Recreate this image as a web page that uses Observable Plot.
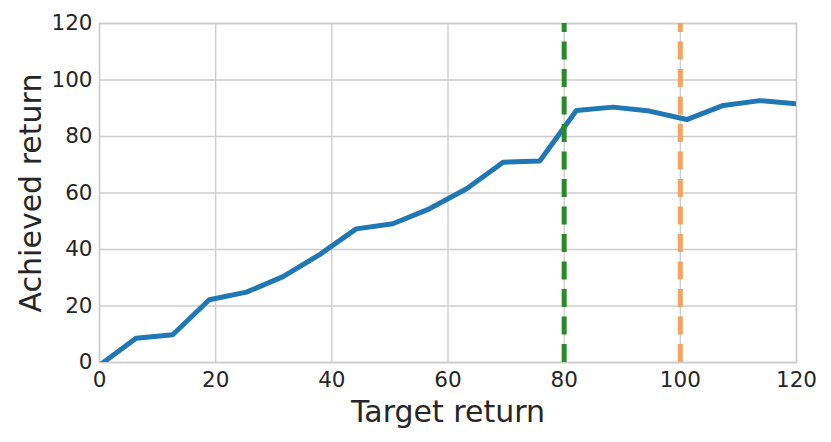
<!DOCTYPE html>
<html>
<head>
<meta charset="utf-8">
<script src="https://cdn.jsdelivr.net/npm/d3@7"></script>
<script src="https://cdn.jsdelivr.net/npm/@observablehq/plot@0.6"></script>
<style>
  html, body { margin: 0; padding: 0; background: white; }
</style>
</head>
<body>
<div id="chart"></div>
<script>
// Data
const targetReturn = [0, 6.3, 12.6, 18.9, 25.3, 31.6, 37.9, 44.2, 50.5, 56.8, 63.2, 69.5, 75.8, 82.1, 88.4, 94.7, 101.1, 107.4, 113.7, 120];
const achievedReturn = [-1, 8.6, 9.8, 22.2, 24.9, 30.4, 38.2, 47.3, 49.1, 54.4, 61.5, 70.9, 71.3, 89.2, 90.4, 89.0, 86.0, 91.0, 92.7, 91.6];
const markerLines = [80, 100];
const markerColors = ["#2a8a2a", "#f4a460"];
const xTicks = [0, 20, 40, 60, 80, 100, 120];
const yTicks = [0, 20, 40, 60, 80, 100, 120];
const xLabel = "Target return";
const yLabel = "Achieved return";

const data = targetReturn.map((x, i) => ({x, y: achievedReturn[i]}));
const rules = markerLines.map((x, i) => ({x, color: markerColors[i]}));

const chart = Plot.plot({
  width: 831,
  height: 442,
  marginLeft: 99,
  marginRight: 35,
  marginTop: 23,
  marginBottom: 80,
  style: {fontFamily: "DejaVu Sans", fontSize: "21.5px", color: "#262626", background: "white"},
  x: {domain: [0, 120]},
  y: {domain: [0, 120]},
  marks: [
    Plot.gridX(xTicks, {stroke: "#cccccc", strokeOpacity: 1, strokeWidth: 1.3}),
    Plot.gridY(yTicks, {stroke: "#cccccc", strokeOpacity: 1, strokeWidth: 1.3}),
    Plot.frame({stroke: "#cccccc", strokeWidth: 1.5}),
    Plot.axisX({ticks: xTicks, tickSize: 0, tickPadding: 9, label: null, fill: "#262626"}),
    Plot.axisY({ticks: yTicks, tickSize: 0, tickPadding: 7, label: null, fill: "#262626"}),
    Plot.line(data, {x: "x", y: "y", stroke: "#1f77b4", strokeWidth: 5, clip: true, strokeLinejoin: "round"}),
    Plot.ruleX(rules, {x: "x", y1: 0, y2: 120, stroke: "color", strokeWidth: 5, strokeDasharray: "18,9.5"}),
    Plot.text([xLabel], {text: d => d, frameAnchor: "bottom", dy: 50, fontSize: 30, fill: "#262626", lineAnchor: "middle"}),
    Plot.text([yLabel], {text: d => d, frameAnchor: "left", dx: -68, rotate: -90, fontSize: 30, fill: "#262626", lineAnchor: "middle", textAnchor: "middle"})
  ]
});
document.getElementById("chart").appendChild(chart);
</script>
</body>
</html>
